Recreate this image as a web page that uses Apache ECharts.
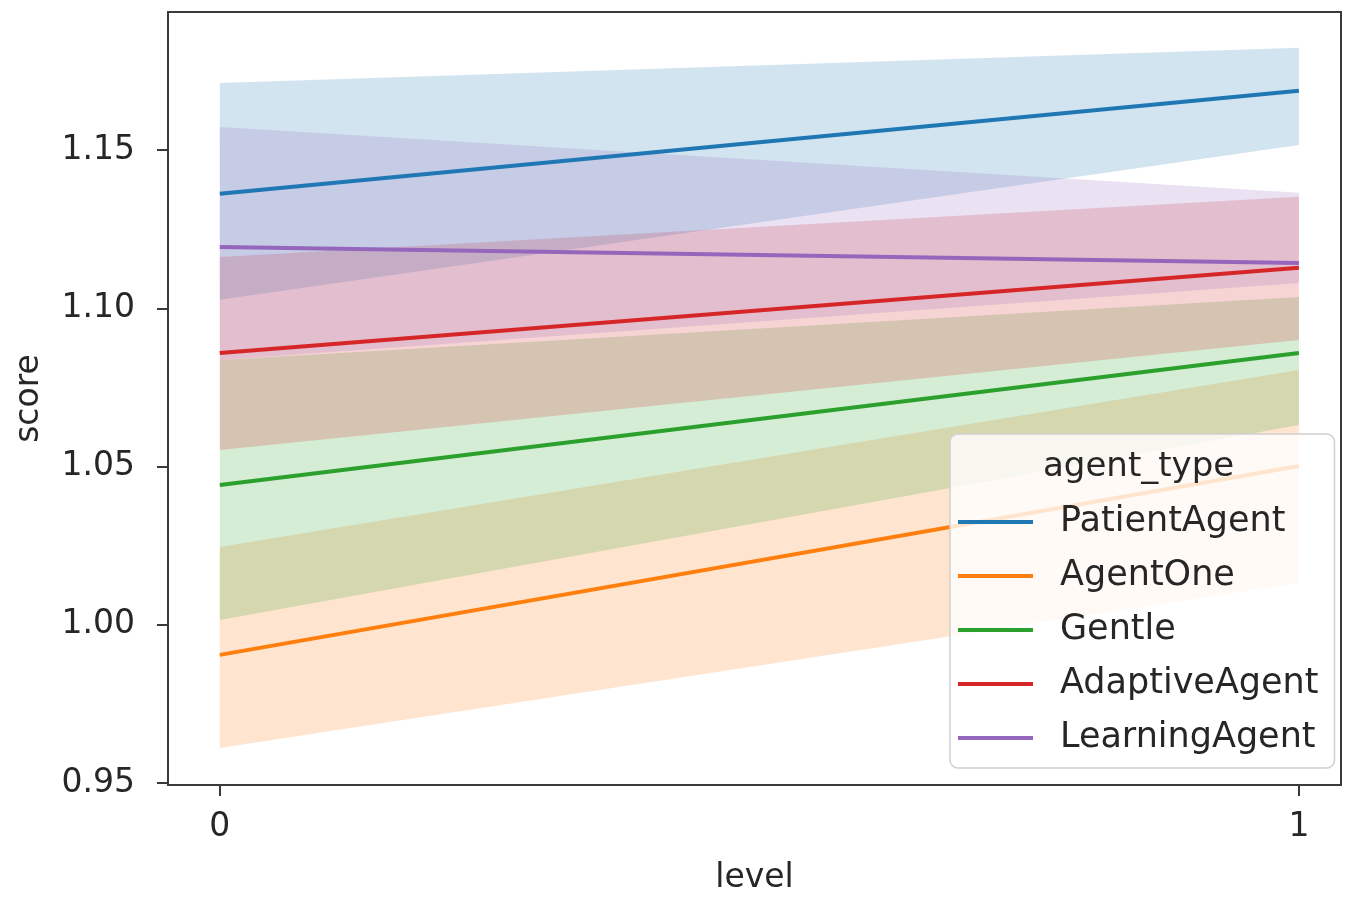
<!DOCTYPE html>
<html>
<head>
<meta charset="utf-8">
<script src="https://cdn.jsdelivr.net/npm/echarts@6/dist/echarts.min.js"></script>
<style>
html,body{margin:0;padding:0;background:#fff;}
#chart{width:1352px;height:897px;}
</style>
</head>
<body>
<div id="chart"></div>
<script>
// ---- data ----
const levels = [0, 1];
const agentTypes = ['PatientAgent', 'AgentOne', 'Gentle', 'AdaptiveAgent', 'LearningAgent'];
const colors = ['#1f77b4', '#ff7f0e', '#2ca02c', '#d62728', '#9467bd'];

const patientMean = [1.1362, 1.1687];
const patientLow  = [1.1027, 1.1516];
const patientHigh = [1.1712, 1.1823];

const agentOneMean = [0.9905, 1.0502];
const agentOneLow  = [0.9611, 1.0132];
const agentOneHigh = [1.0246, 1.0805];

const gentleMean = [1.0442, 1.0859];
const gentleLow  = [1.0015, 1.0631];
const gentleHigh = [1.0837, 1.1036];

const adaptiveMean = [1.0859, 1.1128];
const adaptiveLow  = [1.0552, 1.0900];
const adaptiveHigh = [1.1162, 1.1352];

const learningMean = [1.1194, 1.1143];
const learningLow  = [1.0837, 1.1080];
const learningHigh = [1.1573, 1.1365];

const xTickValues = [0, 1];
const yTickValues = [0.95, 1.00, 1.05, 1.10, 1.15];

const means = [patientMean, agentOneMean, gentleMean, adaptiveMean, learningMean];
const lows  = [patientLow, agentOneLow, gentleLow, adaptiveLow, learningLow];
const highs = [patientHigh, agentOneHigh, gentleHigh, adaptiveHigh, learningHigh];

// ---- build ----
const FONT = 'DejaVu Sans';
const TXT = '#262626';
const AX = '#3a3a3a';

function hexToRgba(hex, a) {
  const n = parseInt(hex.slice(1), 16);
  return 'rgba(' + ((n >> 16) & 255) + ',' + ((n >> 8) & 255) + ',' + (n & 255) + ',' + a + ')';
}

const series = [];
agentTypes.forEach((name, i) => {
  series.push({
    name: name,
    type: 'line',
    data: levels.map((x, k) => [x, means[i][k]]),
    symbol: 'none',
    lineStyle: { color: colors[i], width: 4 },
    itemStyle: { color: colors[i] },
    silent: true,
    z: 2
  });
  // confidence band as one polygon: [x0, low0, high0, x1, low1, high1]
  const bandItem = [];
  levels.forEach((x, k) => { bandItem.push(x, lows[i][k], highs[i][k]); });
  series.push({
    name: name + '_band',
    type: 'custom',
    data: [bandItem],
    silent: true,
    z: 2,
    clip: true,
    renderItem: function (params, api) {
      const n = levels.length;
      const upper = [], lower = [];
      for (let k = 0; k < n; k++) {
        const x = api.value(3 * k);
        upper.push(api.coord([x, api.value(3 * k + 2)]));
        lower.push(api.coord([x, api.value(3 * k + 1)]));
      }
      const pts = upper.concat(lower.reverse());
      return {
        type: 'polygon',
        shape: { points: pts },
        style: { fill: hexToRgba(colors[i], 0.2), stroke: 'none' }
      };
    },
    encode: { x: [0, 3], y: [1, 2, 4, 5] }
  });
});

const chart = echarts.init(document.getElementById('chart'), null, { renderer: 'canvas' });
chart.setOption({
  animation: false,
  backgroundColor: '#ffffff',
  grid: {
    left: 168, top: 12, right: 11, bottom: 112,
    containLabel: false,
    outerBoundsMode: 'none',
    show: true, borderColor: AX, borderWidth: 2, backgroundColor: 'transparent'
  },
  xAxis: {
    type: 'value',
    min: -0.048, max: 1.039,
    name: 'level',
    nameLocation: 'middle',
    nameGap: 77,
    nameTextStyle: { fontFamily: FONT, fontSize: 33, color: TXT },
    axisLine: { show: true, onZero: false, lineStyle: { color: AX, width: 2 } },
    axisTick: { show: true, length: 11, lineStyle: { color: AX, width: 2 }, customValues: xTickValues },
    axisLabel: { customValues: xTickValues, fontFamily: FONT, fontSize: 33, color: TXT, margin: 26,
      formatter: v => String(v) },
    splitLine: { show: false }
  },
  yAxis: {
    type: 'value',
    min: 0.9494, max: 1.1936,
    name: 'score',
    nameLocation: 'middle',
    nameGap: 122,
    nameRotate: 90,
    nameTextStyle: { fontFamily: FONT, fontSize: 33, color: TXT },
    axisLine: { show: true, onZero: false, lineStyle: { color: AX, width: 2 } },
    axisTick: { show: true, length: 11, lineStyle: { color: AX, width: 2 }, customValues: yTickValues },
    axisLabel: { customValues: yTickValues, fontFamily: FONT, fontSize: 33, color: TXT, margin: 33,
      formatter: v => v.toFixed(2) },
    splitLine: { show: false }
  },
  legend: {
    data: agentTypes,
    orient: 'vertical',
    left: 950,
    top: 434,
    padding: [68, 16, 10, 8],
    itemGap: 14,
    itemWidth: 75,
    itemHeight: 4,
    icon: 'rect',
    backgroundColor: 'rgba(255,255,255,0.8)',
    borderColor: '#d0d0d0',
    borderWidth: 1.5,
    borderRadius: 8,
    textStyle: { fontFamily: FONT, fontSize: 35, color: TXT, lineHeight: 40, padding: [0, 0, 0, 22] },
    selectedMode: false,
    z: 10
  },
  graphic: [{
    type: 'text',
    left: 1043,
    top: 450,
    z: 100,
    style: { text: 'agent_type', font: '34px "DejaVu Sans"', fill: TXT }
  }],
  series: series
});
</script>
</body>
</html>
